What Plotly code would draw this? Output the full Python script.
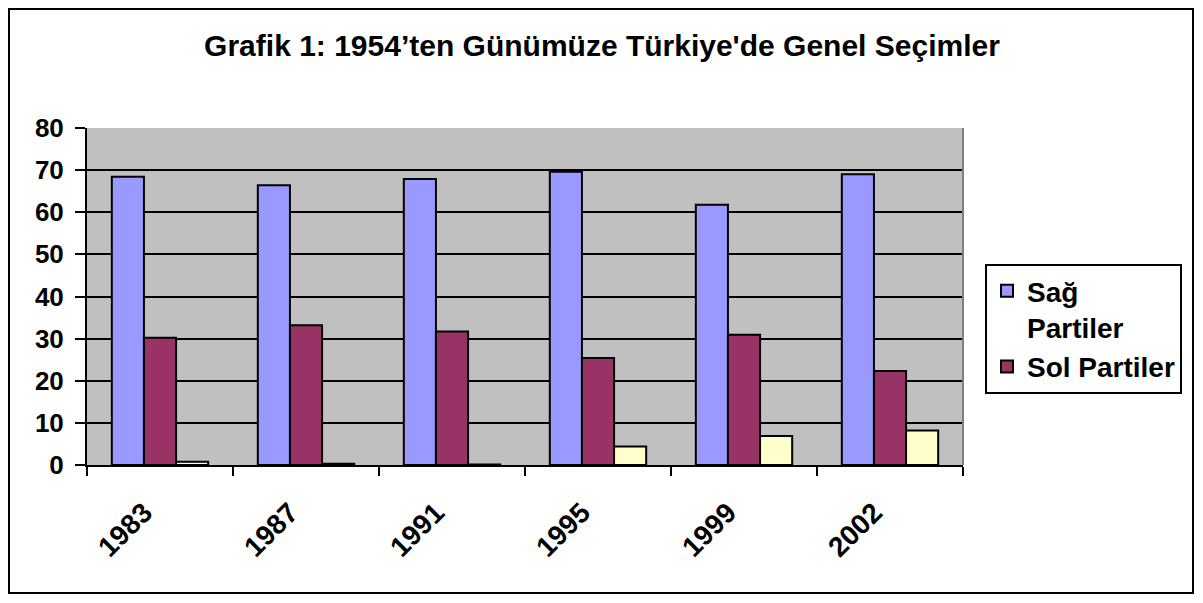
import plotly.graph_objects as go

years = ["1983", "1987", "1991", "1995", "1999", "2002"]
sag = [68.4, 66.4, 67.9, 69.6, 61.8, 69.0]
sol = [30.2, 33.2, 31.7, 25.4, 30.9, 22.3]
diger = [0.8, 0.3, 0.1, 4.4, 6.9, 8.2]

OFF = 8  # page body margin offset
W, H = 1203, 603
L, R, T, B = 87 - OFF, 963 - OFF, 128 - OFF, 465 - OFF
pw, ph = R - L, B - T

def px(x):
    return (x - OFF - L) / pw

def py(y):
    return (B - (y - OFF)) / ph

font = dict(family="Liberation Sans, Arial, sans-serif", size=26, color="black")
line = dict(color="black", width=2)

fig = go.Figure()
fig.add_trace(go.Bar(x=years, y=sag, name="<b>Sağ<br>Partiler</b>", marker=dict(color="#9999FF", line=line)))
fig.add_trace(go.Bar(x=years, y=sol, name="<b>Sol Partiler</b>", marker=dict(color="#993366", line=line)))
fig.add_trace(go.Bar(x=years, y=diger, name="Diğer", showlegend=False, marker=dict(color="#FFFFCC", line=line)))

fig.update_layout(
    width=W, height=H,
    margin=dict(l=L, r=W - R, t=T, b=H - B, autoexpand=False),
    paper_bgcolor="white", plot_bgcolor="#C0C0C0",
    font=font,
    barmode="group", bargap=0.34, bargroupgap=0,
    title=dict(text="<b>Grafik 1: 1954’ten Günümüze Türkiye'de Genel Seçimler</b>",
               x=(602 - OFF) / W, xref="container", xanchor="center",
               y=1 - (45 - OFF) / H, yref="container", yanchor="middle",
               font=dict(size=30)),
    legend=dict(x=px(985), y=py(264), xanchor="left", yanchor="top",
                bordercolor="black", borderwidth=2, bgcolor="white",
                valign="top", tracegroupgap=0, itemwidth=30,
                font=dict(size=28, family="Liberation Sans, Arial, sans-serif"),
                entrywidth=188, entrywidthmode="pixels"),
    showlegend=True,
)
fig.update_xaxes(type="category", ticks="outside", tickson="boundaries", ticklen=9, tickwidth=2,
                 tickcolor="black", showline=True, linecolor="black", linewidth=2,
                 tickangle=-45, tickfont=dict(size=28), tickprefix="<b>", ticksuffix="</b>",
                 ticklabelstandoff=18, ticklabelshift=-16,
                 showgrid=False, mirror=False)
fig.update_yaxes(range=[0, 80], dtick=10, ticks="outside", ticklen=10, tickwidth=2, tickcolor="black",
                 showline=True, linecolor="black", linewidth=2,
                 showgrid=True, gridcolor="black", gridwidth=2, zeroline=False,
                 tickfont=dict(size=26), tickprefix="<b>", ticksuffix="</b>",
                 ticklabelstandoff=6)

fig.add_shape(type="rect", xref="paper", yref="paper",
              x0=px(9), x1=px(1193), y0=py(593), y1=py(9),
              line=dict(color="black", width=2), fillcolor="rgba(0,0,0,0)", layer="below")
fig.add_shape(type="line", xref="paper", yref="paper", x0=1, x1=1, y0=0, y1=1,
              line=dict(color="#808080", width=2))

fig.write_html("out.html")
